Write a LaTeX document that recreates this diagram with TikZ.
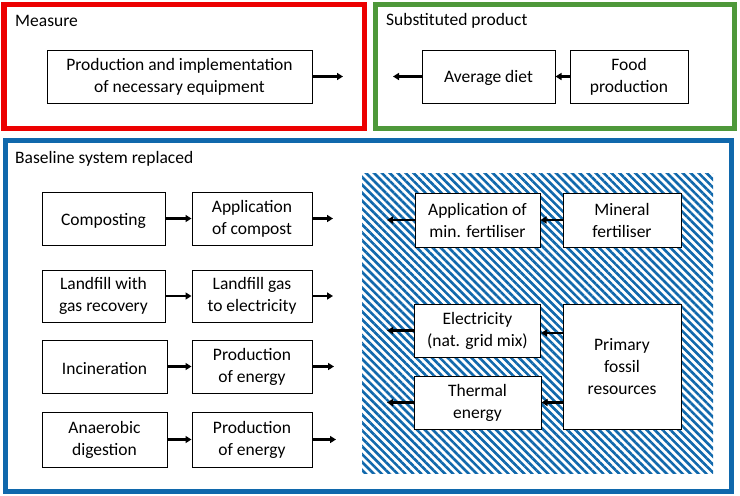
\documentclass[tikz,border=0pt]{standalone}
\usepackage{fontspec}
\setmainfont{Carlito}
\usetikzlibrary{arrows.meta,patterns.meta}
\definecolor{mred}{RGB}{236,0,0}
\definecolor{mgreen}{RGB}{78,152,58}
\definecolor{mblue}{RGB}{16,104,172}
\tikzset{
  frame/.style={line width=5.5pt},
  box/.style={draw=black,line width=1pt,fill=white,align=center,inner sep=0pt,
    font=\fontsize{17.5}{22}\selectfont,execute at begin node={\rule{0pt}{16pt}}},
  arr/.style={line width=2.2pt,-{Triangle[length=6pt,width=7pt]}},
  ttl/.style={anchor=west,inner sep=0pt,font=\fontsize{17.5}{21}\selectfont}
}
\begin{document}
\begin{tikzpicture}[x=1pt,y=-1pt]
\useasboundingbox (0,0) rectangle (740,496);
% frames
\draw[frame,draw=mred] (4,4.5) rectangle (364.5,128.5);
\draw[frame,draw=mgreen] (375.5,4.5) rectangle (734.5,128.5);
\draw[frame,draw=mblue] (5.5,140.5) rectangle (731.5,491.5);
\node[ttl] (tmeas) at (15,20.5) {Measure};
\node[ttl] (tsub) at (386,20.5) {Substituted product};
\node[ttl] (tbase) at (15,158.5) {Baseline system replaced};
% hatched region
\fill[pattern={Lines[angle=-45,distance=5.6pt,line width=2.6pt]},pattern color=mblue] (362,173) rectangle (713,473);
% measure
\node[box,minimum width=265pt,minimum height=53pt] (meas) at (179.5,76.5) {Production and implementation\\of necessary equipment};
\coordinate (measout) at (343,76.5);
\draw[arr] (meas.east) -- (measout);
% substituted
\node[box,minimum width=133pt,minimum height=53pt] (diet) at (488.5,76.5) {Average diet};
\node[box,minimum width=118pt,minimum height=53pt] (food) at (629,76.5) {Food\\production};
\coordinate (dietout) at (393,76.5);
\draw[arr] (food.west) -- (diet.east);
\draw[arr] (diet.west) -- (dietout);
% baseline left
\node[box,minimum width=123pt,minimum height=53pt] (comp) at (103.5,218.5) {Composting};
\node[box,minimum width=120pt,minimum height=53pt] (appc) at (252,218.5) {Application\\of compost};
\node[box,minimum width=123pt,minimum height=52pt] (land) at (103.5,296) {Landfill with\\gas recovery};
\node[box,minimum width=120pt,minimum height=52pt] (lgas) at (252,296) {Landfill gas\\to electricity};
\node[box,minimum width=125pt,minimum height=53pt] (inc) at (104.5,366.5) {Incineration};
\node[box,minimum width=120pt,minimum height=53pt] (pe1) at (252,366.5) {Production\\of energy};
\node[box,minimum width=125pt,minimum height=55pt] (ad) at (104.5,439.5) {Anaerobic\\digestion};
\node[box,minimum width=120pt,minimum height=55pt] (pe2) at (252,439.5) {Production\\of energy};
\coordinate (o1) at (333,218.5);
\coordinate (o2) at (333,296);
\coordinate (o3) at (334,366.5);
\coordinate (o4) at (336,439.5);
\draw[arr] (comp) -- (appc);
\draw[arr] (land) -- (lgas);
\draw[arr] (inc) -- (pe1);
\draw[arr] (ad) -- (pe2);
\draw[arr] (appc) -- (o1);
\draw[arr] (lgas) -- (o2);
\draw[arr] (pe1) -- (o3);
\draw[arr] (pe2) -- (o4);
% baseline right
\node[box,minimum width=125pt,minimum height=54pt] (appm) at (477.5,220) {Application of\\min. fertiliser};
\node[box,minimum width=118pt,minimum height=54pt] (minf) at (622,220) {Mineral\\fertiliser};
\node[box,minimum width=126pt,minimum height=53pt] (elec) at (477.5,330.5) {Electricity\\(nat. grid mix)};
\node[box,minimum width=127pt,minimum height=53pt] (therm) at (477.5,402.5) {Thermal\\energy};
\node[box,minimum width=118pt,minimum height=125pt] (prim) at (622,366.5) {Primary\\fossil\\resources};
\coordinate (r1) at (387,220);
\coordinate (r2) at (387,330.5);
\coordinate (r3) at (387,402.5);
\draw[arr] (minf) -- (appm);
\draw[arr] (appm) -- (r1);
\draw[arr] (prim.west |- 0,333) -- (elec.east |- 0,333);
\draw[arr] (prim.west |- therm.east) -- (therm.east);
\draw[arr] (elec) -- (r2);
\draw[arr] (therm) -- (r3);
\end{tikzpicture}
\end{document}
